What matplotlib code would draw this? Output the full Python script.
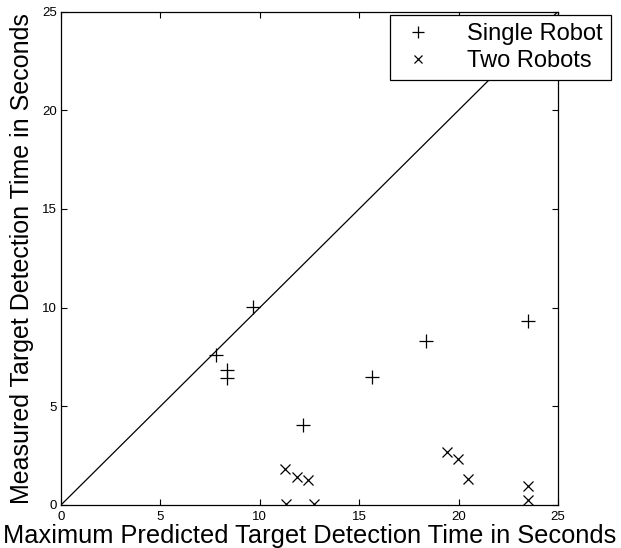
import matplotlib
matplotlib.use("Agg")
import matplotlib.pyplot as plt
import numpy as np

# measured vs. predicted detection times (seconds)
single_x = [7.80, 8.37, 8.37, 9.65, 12.17, 15.65, 18.36, 23.49]
single_y = [7.60, 6.84, 6.43, 10.04, 4.05, 6.49, 8.32, 9.33]
two_x = [11.28, 11.87, 12.41, 11.32, 12.71, 19.41, 19.95, 20.47, 23.49, 23.49]
two_y = [1.83, 1.42, 1.28, 0.05, 0.05, 2.70, 2.31, 1.33, 0.94, 0.23]
ticks = [0, 5, 10, 15, 20, 25]

plt.rcParams['font.family'] = ['Liberation Sans', 'DejaVu Sans']
plt.rcParams['xtick.direction'] = 'in'
plt.rcParams['ytick.direction'] = 'in'

fig = plt.figure(figsize=(6.21, 5.48), dpi=100)
ax = fig.add_axes([0.0982, 0.0785, 0.8003, 0.9005])

ax.plot([0, 25], [0, 25], color='black', linewidth=0.9)
ax.plot(single_x, single_y, linestyle='none', marker='+', color='black',
        markersize=10, markeredgewidth=0.9, label='Single Robot')
ax.plot(two_x, two_y, linestyle='none', marker='x', color='black',
        markersize=7, markeredgewidth=0.9, label='Two Robots')

ax.set_xlim(0, 25)
ax.set_ylim(0, 25)
ax.set_xticks(ticks)
ax.set_yticks(ticks)
ax.tick_params(top=True, right=True, labelsize=9.5, length=4, width=0.8)
ax.tick_params(axis='x', pad=4)
ax.tick_params(axis='y', pad=3)
for s in ax.spines.values():
    s.set_linewidth(0.9)

ax.set_xlabel('Maximum Predicted Target Detection Time in Seconds', fontsize=18.3, labelpad=1)
ax.set_ylabel('Measured Target Detection Time in Seconds', fontsize=18, labelpad=6)

leg = ax.legend(loc='upper right', bbox_to_anchor=(611 / 621, 1 - 15 / 548),
                bbox_transform=fig.transFigure, fontsize=17, frameon=True,
                fancybox=False, edgecolor='black', framealpha=1,
                borderpad=0.35, labelspacing=0.2, handletextpad=1.3,
                handlelength=1.6, borderaxespad=0, markerscale=0.85)
leg.get_frame().set_linewidth(0.9)

fig.savefig('out.png', dpi=100)
